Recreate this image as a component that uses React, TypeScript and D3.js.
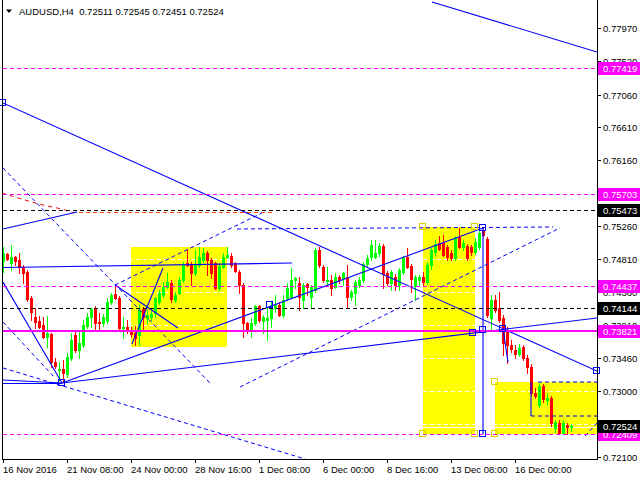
import React, { useEffect, useRef } from 'react';
import * as d3 from 'd3';

// AUDUSD H4 candles, one per 4h bar (bar 0 = 16 Nov 2016 16:00)
const opens = [
  0.74783, 0.74879, 0.74756, 0.74838, 0.74797, 0.74701, 0.74633, 0.74278, 0.74018, 0.73964,
  0.73909, 0.73745, 0.73786, 0.73404, 0.73294, 0.73308, 0.73240, 0.73458, 0.73773, 0.73568,
  0.73636, 0.73895, 0.74018, 0.74128, 0.73950, 0.73936, 0.73964, 0.74223, 0.74332, 0.74278,
  0.73868, 0.73882, 0.73841, 0.73800, 0.73773, 0.74128, 0.74005, 0.74018, 0.74073, 0.74223,
  0.74319, 0.74428, 0.74483, 0.74251, 0.74346, 0.74524, 0.74756, 0.74729, 0.74619, 0.74729,
  0.74797, 0.74893, 0.74797, 0.74756, 0.74414, 0.74701, 0.74838, 0.74852, 0.74756, 0.74633,
  0.74455, 0.73936, 0.73841, 0.73936, 0.74169, 0.73964, 0.73977, 0.74005, 0.74141, 0.74182,
  0.74046, 0.74278, 0.74292, 0.74524, 0.74483, 0.74251, 0.74469, 0.74292, 0.74387, 0.74933,
  0.74701, 0.74510, 0.74524, 0.74428, 0.74565, 0.74551, 0.74565, 0.74292, 0.74346, 0.74455,
  0.74524, 0.74742, 0.74838, 0.74838, 0.74893, 0.74988, 0.74619, 0.74483, 0.74565, 0.74455,
  0.74633, 0.74838, 0.74715, 0.74442, 0.74524, 0.74565, 0.74496, 0.74729, 0.74906, 0.75029,
  0.75029, 0.74974, 0.74893, 0.74824, 0.75111, 0.74974, 0.74988, 0.74974, 0.74906, 0.74974,
  0.75207, 0.75084, 0.74005, 0.74251, 0.74141, 0.74005, 0.73841, 0.73636, 0.73568, 0.73513,
  0.73609, 0.73458, 0.73335, 0.72979, 0.72815, 0.73075, 0.72883, 0.72911, 0.72498, 0.72566,
  0.72430, 0.72539, 0.72511,
];
const highs = [
  0.74974, 0.74893, 0.75002, 0.74852, 0.74893, 0.74729, 0.74660, 0.74305, 0.74141, 0.74032,
  0.74018, 0.74032, 0.73800, 0.73458, 0.73404, 0.73431, 0.73527, 0.73800, 0.73841, 0.73813,
  0.73977, 0.74073, 0.74141, 0.74169, 0.74073, 0.74059, 0.74278, 0.74346, 0.74455, 0.74305,
  0.74018, 0.73977, 0.73882, 0.73895, 0.74182, 0.74155, 0.74114, 0.74100, 0.74292, 0.74387,
  0.74496, 0.74619, 0.74524, 0.74360, 0.74565, 0.74770, 0.74933, 0.74770, 0.74933, 0.74974,
  0.74961, 0.74920, 0.74824, 0.74770, 0.74756, 0.74893, 0.74974, 0.74893, 0.74770, 0.74660,
  0.74483, 0.73950, 0.74005, 0.74182, 0.74182, 0.74046, 0.74155, 0.74223, 0.74319, 0.74223,
  0.74319, 0.74483, 0.74688, 0.74565, 0.74565, 0.74483, 0.74483, 0.74455, 0.74961, 0.74974,
  0.74729, 0.74701, 0.74592, 0.74619, 0.74592, 0.74633, 0.74729, 0.74387, 0.74524, 0.74565,
  0.74770, 0.74865, 0.75070, 0.75070, 0.75029, 0.75015, 0.74647, 0.74660, 0.74606, 0.74688,
  0.74852, 0.74961, 0.74742, 0.74592, 0.74592, 0.74633, 0.74770, 0.74961, 0.75070, 0.75125,
  0.75138, 0.75002, 0.74933, 0.75125, 0.75234, 0.75070, 0.75015, 0.75002, 0.75097, 0.75248,
  0.75248, 0.75111, 0.74319, 0.74319, 0.74360, 0.74046, 0.73882, 0.73704, 0.73636, 0.73650,
  0.73636, 0.73499, 0.73376, 0.73048, 0.73116, 0.73103, 0.72979, 0.72938, 0.72607, 0.72607,
  0.72607, 0.72566, 0.72545,
];
const lows = [
  0.74633, 0.74797, 0.74660, 0.74729, 0.74619, 0.74483, 0.74237, 0.73977, 0.73868, 0.73868,
  0.73732, 0.73609, 0.73335, 0.73322, 0.73157, 0.73130, 0.73199, 0.73431, 0.73540, 0.73458,
  0.73609, 0.73868, 0.73882, 0.73854, 0.73854, 0.73895, 0.73936, 0.74196, 0.74264, 0.73841,
  0.73732, 0.73800, 0.73745, 0.73636, 0.73636, 0.73841, 0.73936, 0.73977, 0.74018, 0.74196,
  0.74292, 0.74414, 0.74223, 0.74223, 0.74332, 0.74496, 0.74715, 0.74455, 0.74592, 0.74701,
  0.74770, 0.74592, 0.74551, 0.74401, 0.74387, 0.74688, 0.74824, 0.74701, 0.74633, 0.74346,
  0.73745, 0.73800, 0.73745, 0.73909, 0.73950, 0.73800, 0.73704, 0.73882, 0.74087, 0.74032,
  0.74018, 0.74251, 0.74278, 0.74414, 0.74114, 0.74141, 0.74319, 0.74141, 0.74360, 0.74701,
  0.74496, 0.74455, 0.74319, 0.74414, 0.74483, 0.74455, 0.74155, 0.74251, 0.74182, 0.74428,
  0.74496, 0.74701, 0.74797, 0.74824, 0.74852, 0.74414, 0.74455, 0.74387, 0.74387, 0.74387,
  0.74606, 0.74688, 0.74360, 0.74251, 0.74455, 0.74455, 0.74469, 0.74674, 0.74852, 0.74933,
  0.74852, 0.74797, 0.74797, 0.74797, 0.74961, 0.74933, 0.74797, 0.74865, 0.74879, 0.74947,
  0.75125, 0.74018, 0.73854, 0.74087, 0.73950, 0.73499, 0.73390, 0.73540, 0.73458, 0.73486,
  0.73431, 0.73253, 0.72952, 0.72911, 0.72787, 0.72856, 0.72828, 0.72525, 0.72443, 0.72416,
  0.72409, 0.72420, 0.72451,
];
const closes = [
  0.74893, 0.74811, 0.74838, 0.74783, 0.74701, 0.74619, 0.74264, 0.74087, 0.73950, 0.73882,
  0.73745, 0.73800, 0.73404, 0.73349, 0.73308, 0.73253, 0.73472, 0.73704, 0.73568, 0.73663,
  0.73909, 0.74018, 0.74128, 0.73936, 0.73936, 0.74018, 0.74223, 0.74319, 0.74278, 0.73868,
  0.73882, 0.73854, 0.73786, 0.73732, 0.74114, 0.74018, 0.74046, 0.74059, 0.74278, 0.74346,
  0.74428, 0.74496, 0.74264, 0.74319, 0.74524, 0.74729, 0.74729, 0.74619, 0.74729, 0.74838,
  0.74893, 0.74797, 0.74619, 0.74414, 0.74715, 0.74838, 0.74865, 0.74729, 0.74647, 0.74455,
  0.73936, 0.73841, 0.73936, 0.74169, 0.73977, 0.74018, 0.74005, 0.74182, 0.74182, 0.74046,
  0.74251, 0.74414, 0.74524, 0.74551, 0.74292, 0.74455, 0.74428, 0.74428, 0.74933, 0.74729,
  0.74524, 0.74524, 0.74414, 0.74565, 0.74524, 0.74619, 0.74292, 0.74360, 0.74496, 0.74524,
  0.74742, 0.74824, 0.75002, 0.74893, 0.74988, 0.74606, 0.74483, 0.74633, 0.74455, 0.74660,
  0.74824, 0.74701, 0.74537, 0.74565, 0.74565, 0.74496, 0.74729, 0.74933, 0.75015, 0.74947,
  0.74865, 0.74838, 0.74824, 0.75097, 0.74974, 0.75029, 0.74824, 0.74906, 0.75043, 0.75166,
  0.75138, 0.74046, 0.74251, 0.74114, 0.73977, 0.73663, 0.73636, 0.73581, 0.73513, 0.73595,
  0.73458, 0.73335, 0.72979, 0.72938, 0.73075, 0.72897, 0.72911, 0.72566, 0.72580, 0.72430,
  0.72566, 0.72512, 0.72524,
];

const priceTicks = [0.77970, 0.77520, 0.77060, 0.76610, 0.76160, 0.75710, 0.75260, 0.74810, 0.74360, 0.73910, 0.73460, 0.73000, 0.72550, 0.72100];
const timeLabels = ['16 Nov 2016', '21 Nov 08:00', '24 Nov 00:00', '28 Nov 16:00', '1 Dec 08:00', '6 Dec 00:00', '8 Dec 16:00', '13 Dec 08:00', '16 Dec 00:00'];
const timeLabelBars = [0, 16, 32, 48, 64, 80, 96, 112, 128];

// horizontal levels with their price tags
const levelPrices = [0.77419, 0.75703, 0.75473, 0.74437, 0.74144, 0.73821, 0.72409];
const levelColors = ['#ff00ff', '#ff00ff', '#000000', '#ff00ff', '#000000', '#ff00ff', '#ff00ff'];
const levelDashed = [true, true, true, true, true, false, true];
const lastPrice = 0.72524;
const titleText = 'AUDUSD,H4  0.72511 0.72545 0.72451 0.72524';

// drawn objects: [bar1, price1, bar2, price2]
const solidLines = [
  [107.25, 0.78326, 148.5, 0.77642],
  [0, 0.76944, 148.5, 0.73277],
  [0, 0.75220, 18.5, 0.75452],
  [0, 0.74692, 72.25, 0.74754],
  [0, 0.74494, 14.75, 0.73112],
  [0, 0.73153, 14.75, 0.73112],
  [0, 0.73105, 14.75, 0.73105],
  [14.75, 0.73112, 148.5, 0.74002],
  [14.75, 0.73112, 120, 0.75234],
  [28, 0.74453, 43.75, 0.73865],
  [32.25, 0.73646, 40, 0.74686],
  [120, 0.75234, 120, 0.72415],
  [125, 0.73851, 126.25, 0.73400],
  [132, 0.73126, 132, 0.72661],
];
const dashedLines = [
  [0, 0.76054, 51.75, 0.73112],
  [0, 0.73947, 13, 0.73181],
  [0, 0.73318, 75.5, 0.72073],
  [28, 0.74453, 64.75, 0.75439],
  [58.5, 0.75220, 137.5, 0.75247],
  [59.25, 0.73058, 139.25, 0.75234],
  [133.75, 0.73126, 148.5, 0.73126],
  [132, 0.72661, 148.5, 0.72661],
  [145.5, 0.72387, 148.5, 0.72565],
];
const arcPoints = [[-0.25, 0.75712], [3, 0.75657], [9, 0.75562], [15.5, 0.75480], [17.25, 0.75452]];
const arcTail = [17.25, 0.75452, 67.5, 0.75452];
// rectangles: [bar1, priceTop, bar2, priceBottom]
const zones = [
  [32, 0.74974, 56, 0.73605],
  [105, 0.75247, 118, 0.72415],
  [123, 0.73126, 148.5, 0.72415],
];
const lineAnchors = [
  [0, 0.76944], [14.75, 0.73112], [66.75, 0.74180], [120, 0.75234], [120, 0.73837],
  [117.5, 0.73797], [125, 0.73851], [120, 0.72415], [148.5, 0.73277],
];
const zoneAnchors = [
  [105, 0.75247], [118, 0.75247], [105, 0.72415], [118, 0.72415], [123, 0.73126], [123, 0.72415],
];

const FONT = '"Liberation Sans", Arial, sans-serif';

const App: React.FC = () => {
  const svgRef = useRef<SVGSVGElement>(null);

  useEffect(() => {
    if (!svgRef.current) return;
    document.body.style.margin = '0';

    const right = 597.5;
    const bottom = 459.5;

    const svg = d3.select(svgRef.current).html('');
    const x = d3.scaleLinear().domain([0, 142]).range([3, 571]);
    const y = d3.scaleLinear().domain([0.721, 0.7797]).range([457, 28]);
    const py = (p: number) => Math.round(y(p)) + 0.5;

    svg.append('rect').attr('width', 640).attr('height', 480).attr('fill', '#ffffff');

    svg.append('defs').append('clipPath').attr('id', 'plotClip')
      .append('rect').attr('x', 3).attr('y', 0).attr('width', 594).attr('height', 459);

    const plot = svg.append('g').attr('clip-path', 'url(#plotClip)');

    // yellow zones
    zones.forEach(z => {
      plot.append('rect')
        .attr('x', Math.round(x(z[0])))
        .attr('y', Math.round(y(z[1])))
        .attr('width', Math.round(x(z[2])) - Math.round(x(z[0])))
        .attr('height', Math.round(y(z[3])) - Math.round(y(z[1])))
        .attr('fill', '#ffff00');
    });

    // white grid, only visible on the zones
    plot.append('g').attr('shape-rendering', 'crispEdges')
      .selectAll('line').data(priceTicks).join('line')
      .attr('x1', 3).attr('x2', right)
      .attr('y1', d => py(d)).attr('y2', d => py(d))
      .attr('stroke', '#ffffff').attr('stroke-dasharray', '4,3');

    plot.append('line')
      .attr('x1', 3).attr('x2', right)
      .attr('y1', py(lastPrice) + 1).attr('y2', py(lastPrice) + 1)
      .attr('stroke', '#ffffff').attr('shape-rendering', 'crispEdges');

    // candles
    const cg = plot.append('g').attr('shape-rendering', 'crispEdges');
    opens.forEach((o, i) => {
      const c = closes[i];
      const col = c >= o ? '#00ff00' : '#ff0000';
      const cx = Math.round(x(i));
      cg.append('line')
        .attr('x1', cx + 0.5).attr('x2', cx + 0.5)
        .attr('y1', Math.round(y(highs[i]))).attr('y2', Math.round(y(lows[i])) + 1)
        .attr('stroke', col);
      const top = Math.round(y(Math.max(o, c)));
      const bot = Math.round(y(Math.min(o, c)));
      cg.append('rect')
        .attr('x', cx - 1).attr('y', top)
        .attr('width', 3).attr('height', Math.max(1, bot - top + 1))
        .attr('fill', col);
    });

    // arc-like red dashed object
    const arcLine = d3.line<number[]>().x(d => x(d[0])).y(d => y(d[1])).curve(d3.curveMonotoneX);
    plot.append('path').attr('d', arcLine(arcPoints) as string)
      .attr('fill', 'none').attr('stroke', '#ff0000').attr('stroke-dasharray', '4,4');
    plot.append('line')
      .attr('x1', x(arcTail[0])).attr('x2', x(arcTail[2]))
      .attr('y1', py(arcTail[1])).attr('y2', py(arcTail[3]))
      .attr('stroke', '#ff4500').attr('stroke-dasharray', '4,3').attr('shape-rendering', 'crispEdges');

    // trend lines
    const tl = plot.append('g');
    solidLines.forEach(s => {
      tl.append('line')
        .attr('x1', x(s[0])).attr('y1', y(s[1]))
        .attr('x2', x(s[2])).attr('y2', y(s[3]))
        .attr('stroke', '#0000ff').attr('stroke-width', 1.1);
    });
    dashedLines.forEach(s => {
      tl.append('line')
        .attr('x1', x(s[0])).attr('y1', y(s[1]))
        .attr('x2', x(s[2])).attr('y2', y(s[3]))
        .attr('stroke', '#0000ff').attr('stroke-dasharray', '4,3');
    });

    // horizontal levels
    const lv = plot.append('g').attr('shape-rendering', 'crispEdges');
    levelPrices.forEach((p, k) => {
      const solid = !levelDashed[k];
      const ln = lv.append('line')
        .attr('x1', 3).attr('x2', right)
        .attr('y1', solid ? Math.round(y(p)) : py(p))
        .attr('y2', solid ? Math.round(y(p)) : py(p))
        .attr('stroke', levelColors[k])
        .attr('stroke-width', solid ? 2 : 1);
      if (!solid) ln.attr('stroke-dasharray', '4,3');
    });

    // selection markers
    const mk = svg.append('g').attr('shape-rendering', 'crispEdges');
    lineAnchors.forEach(a => {
      mk.append('rect')
        .attr('x', Math.round(x(a[0])) - 3.5).attr('y', Math.round(y(a[1])) - 3.5)
        .attr('width', 6).attr('height', 6)
        .attr('fill', 'none').attr('stroke', '#0000ff');
    });
    zoneAnchors.forEach(a => {
      mk.append('rect')
        .attr('x', Math.round(x(a[0])) - 3.5).attr('y', Math.round(y(a[1])) - 3.5)
        .attr('width', 6).attr('height', 6)
        .attr('fill', 'none').attr('stroke', '#e0d000');
    });

    // frame
    const frame = svg.append('g').attr('shape-rendering', 'crispEdges').attr('stroke', '#000');
    frame.append('line').attr('x1', 2.5).attr('x2', 2.5).attr('y1', 0).attr('y2', bottom);
    frame.append('line').attr('x1', right).attr('x2', right).attr('y1', 0).attr('y2', bottom);
    frame.append('line').attr('x1', 2.5).attr('x2', right).attr('y1', bottom).attr('y2', bottom);

    // price axis
    const ax = svg.append('g');
    priceTicks.forEach(p => {
      ax.append('line')
        .attr('x1', right).attr('x2', 601)
        .attr('y1', py(p)).attr('y2', py(p))
        .attr('stroke', '#000').attr('shape-rendering', 'crispEdges');
      ax.append('text')
        .attr('x', 603).attr('y', py(p) + 3.5)
        .attr('font-family', FONT).attr('font-size', 9.5).attr('fill', '#000')
        .text(p.toFixed(5));
    });

    // price tags
    const tags = levelPrices.map((p, k) => ({ p, col: levelColors[k] }));
    tags.push({ p: lastPrice, col: '#000000' });
    tags.forEach(t => {
      const cy = Math.round(y(t.p));
      ax.append('rect')
        .attr('x', 598).attr('y', cy - 6).attr('width', 42).attr('height', 13)
        .attr('fill', t.col);
      ax.append('text')
        .attr('x', 603).attr('y', cy + 4)
        .attr('font-family', FONT).attr('font-size', 9.5).attr('fill', '#fff')
        .text(t.p.toFixed(5));
    });

    // time axis
    timeLabelBars.forEach((b, k) => {
      const tx = Math.round(x(b)) + 0.5;
      ax.append('line')
        .attr('x1', tx).attr('x2', tx).attr('y1', bottom).attr('y2', 463)
        .attr('stroke', '#000').attr('shape-rendering', 'crispEdges');
      ax.append('text')
        .attr('x', tx - 0.5).attr('y', 473)
        .attr('font-family', FONT).attr('font-size', 9.5).attr('fill', '#000')
        .text(timeLabels[k]);
    });

    // title
    svg.append('path').attr('d', 'M6,9.5 L12,9.5 L9,13 Z').attr('fill', '#000');
    svg.append('text')
      .attr('x', 19).attr('y', 15)
      .attr('font-family', FONT).attr('font-size', 9.5).attr('fill', '#000')
      .attr('xml:space', 'preserve').style('white-space', 'pre')
      .text(titleText);
  }, []);

  return (
    <svg ref={svgRef} width={640} height={480} style={{ position: 'absolute', left: 0, top: 0 }}></svg>
  );
};

export default App;
